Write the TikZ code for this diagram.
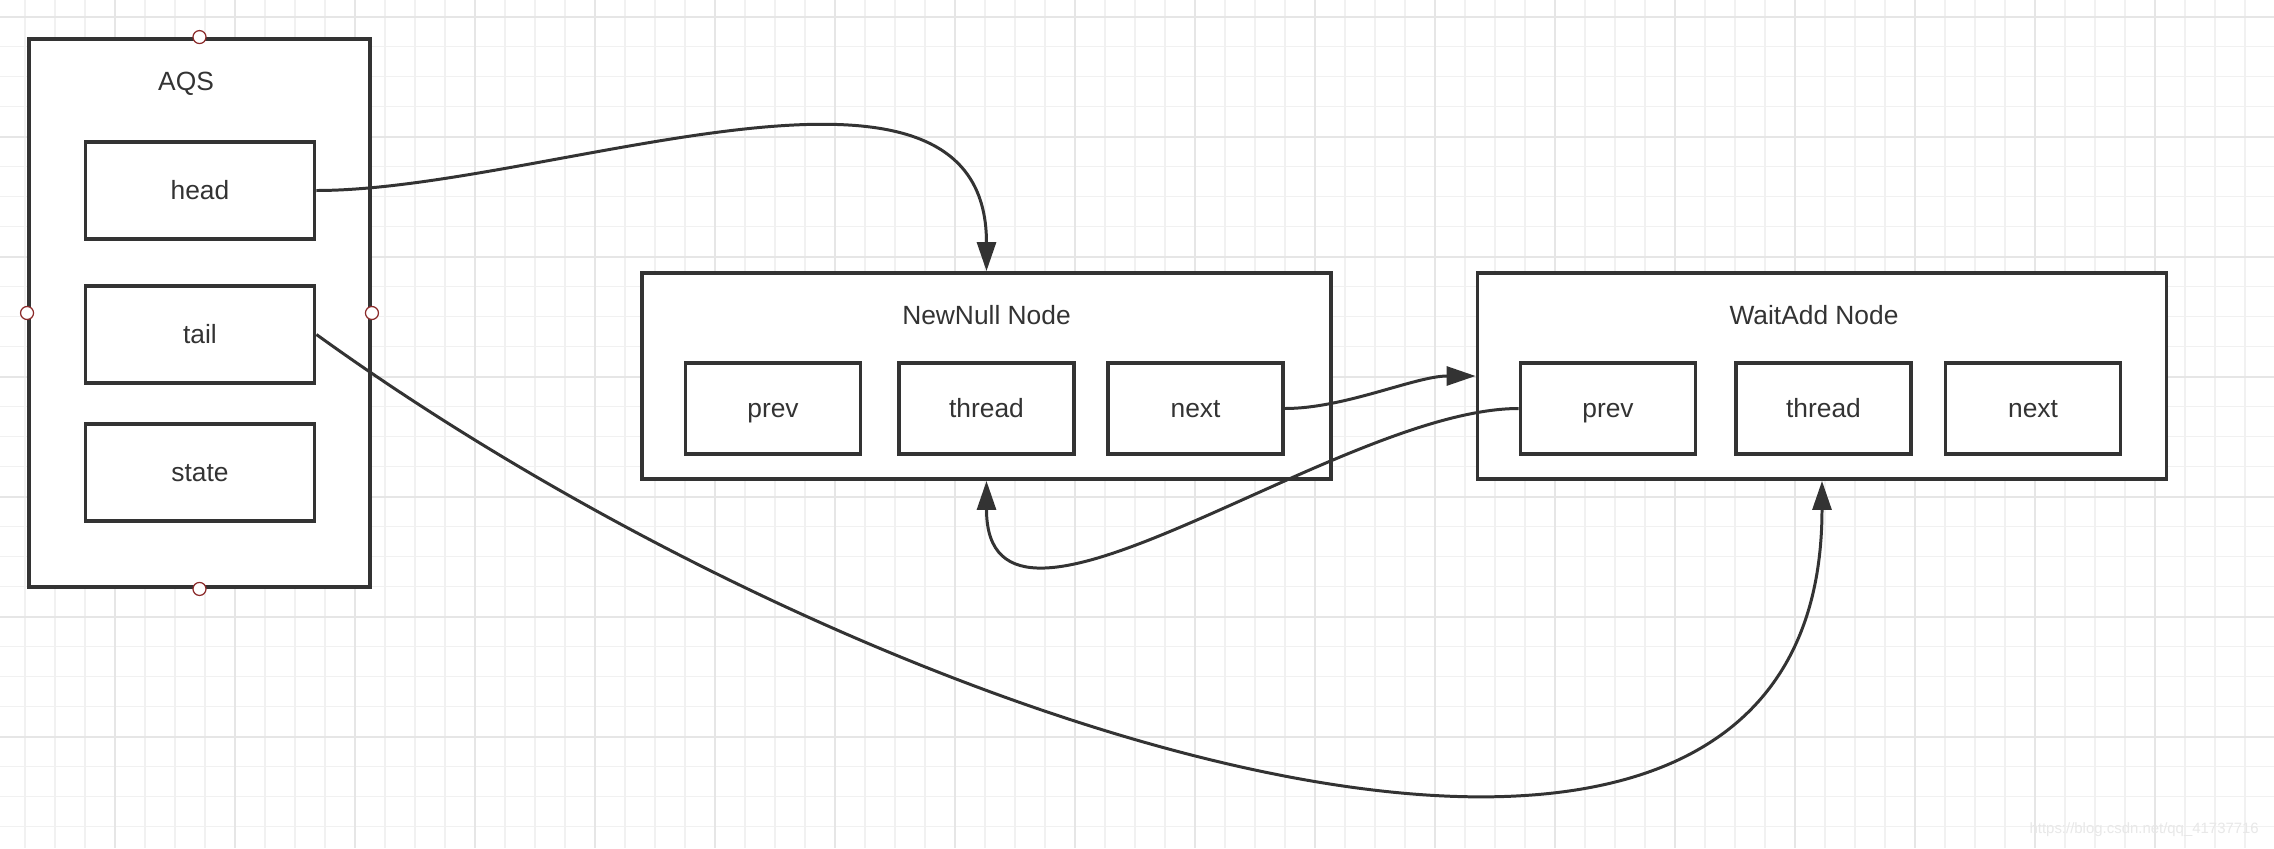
\documentclass[tikz,border=0pt]{standalone}
\usepackage{fontspec}
\setmainfont{Liberation Sans}
\usetikzlibrary{arrows.meta}
\definecolor{ink}{HTML}{333333}
\definecolor{gridminor}{HTML}{F1F1F1}
\definecolor{gridmajor}{HTML}{E6E6E6}
\definecolor{pin}{HTML}{8B2A2A}

\begin{document}
\begin{tikzpicture}[
    font=\fontsize{15}{18}\selectfont, text=ink,
    box/.style={draw=ink, line width=2.2pt, fill=white, text height=10.6pt, text depth=0pt},
    field/.style={box, minimum width=3.5cm, minimum height=1.82cm},
    aqsfield/.style={box, minimum width=4.58cm, minimum height=1.94cm},
    holder/.style={box, minimum width=13.78cm, minimum height=4.12cm},
    port/.style={circle, draw=pin, fill=white, line width=0.7pt, inner sep=0pt, minimum size=0.26cm},
    link/.style={draw=ink, line width=1.7pt, -{Triangle[length=0.58cm,width=0.38cm]}}
  ]
  \useasboundingbox (0,0) rectangle (45.48,-16.96);
  \fill[white] (0,0) rectangle (45.48,-16.96);
  % background grid
  \foreach \x in {0.5,1.1,...,45.4}
    \draw[gridminor, line width=0.8pt] (\x,0) -- (\x,-16.96);
  \foreach \y in {0.333,0.933,...,16.9}
    \draw[gridminor, line width=0.8pt] (0,-\y) -- (45.48,-\y);
  \foreach \x in {2.3,4.7,...,45.4}
    \draw[gridmajor, line width=1pt] (\x,0) -- (\x,-16.96);
  \foreach \y in {0.333,2.733,...,16.9}
    \draw[gridmajor, line width=1pt] (0,-\y) -- (45.48,-\y);

  \node[box, minimum width=6.82cm, minimum height=10.96cm] (aqs) at (3.99,-6.26) {};
  \node (aqslabel) at (3.72,-1.68) {AQS};
  \node[aqsfield] (head) at (4.0,-3.81) {head};
  \node[aqsfield] (tail) at (4.0,-6.69) {tail};
  \node[aqsfield] (state) at (4.0,-9.45) {state};
  \node[port] (aqsn) at (aqs.north) {};
  \node[port] (aqss) at (aqs.south) {};
  \node[port] (aqsw) at (aqs.west) {};
  \node[port] (aqse) at (aqs.east) {};

  \node[holder] (newnull) at (19.73,-7.52) {};
  \node (newnulllabel) at (19.73,-6.3) {NewNull Node};
  \node[field] (nprev) at (15.46,-8.17) {prev};
  \node[field] (nthread) at (19.73,-8.17) {thread};
  \node[field] (nnext) at (23.91,-8.17) {next};

  \node[holder] (waitadd) at (36.44,-7.52) {};
  \node (waitaddlabel) at (36.28,-6.3) {WaitAdd Node};
  \node[field] (wprev) at (32.16,-8.17) {prev};
  \node[field] (wthread) at (36.47,-8.17) {thread};
  \node[field] (wnext) at (40.66,-8.17) {next};

  \draw[link] (head.east) .. controls +(4.6,0) and +(0,5.2) .. (newnull.north);
  \draw[link] (nnext.east) .. controls +(1.2,0) and +(-1.2,0) .. (waitadd.west);
  \draw[link] (wprev.west) .. controls +(-3.6,0) and +(0,-4.1) .. (newnull.south);
  \draw[link] (tail.east) .. controls +(11.2,-8.08) and +(0,-11.32) .. (waitadd.south);

  \node[text=gray!18, font=\fontsize{8.5}{10}\selectfont, anchor=east] (mark) at (45.3,-16.6) {https://blog.csdn.net/qq\_41737716};
\end{tikzpicture}
\end{document}
